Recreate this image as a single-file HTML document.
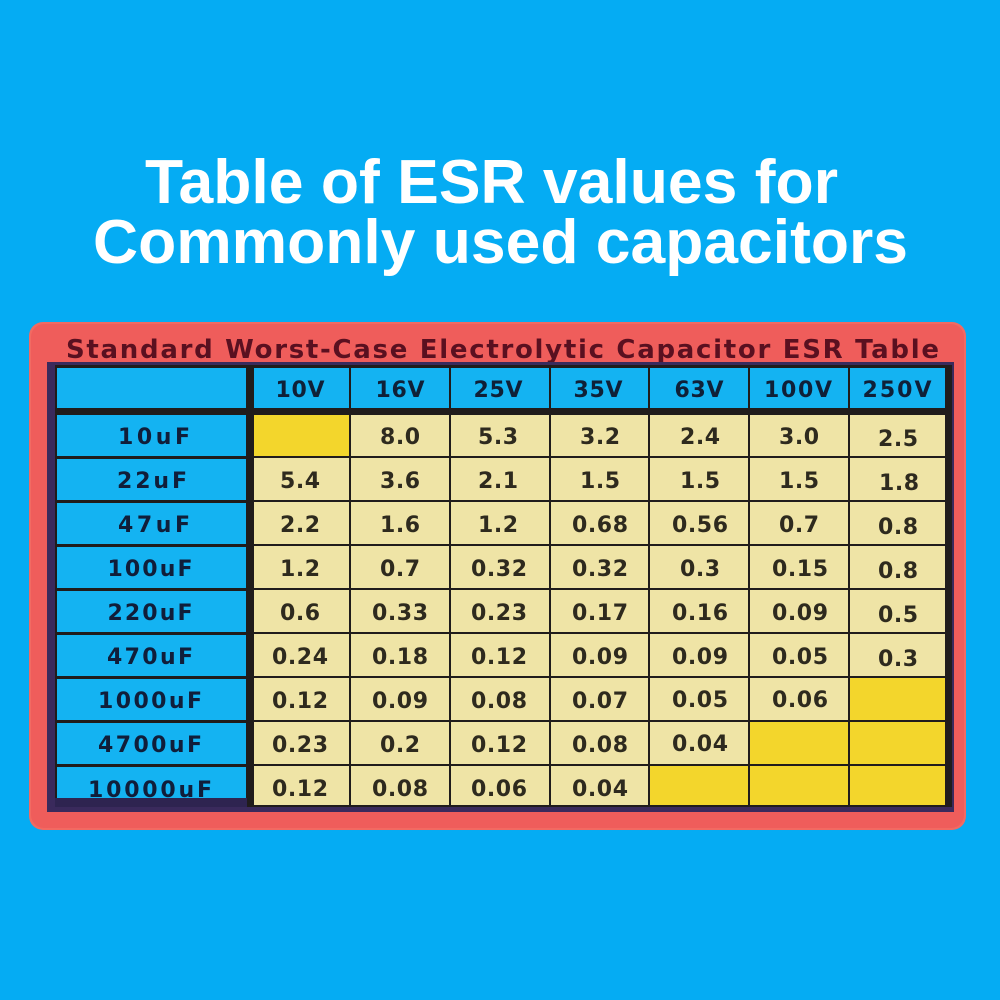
<!DOCTYPE html>
<html><head><meta charset="utf-8"><style>
html,body{margin:0;padding:0;background:#05acf3;}
svg{display:block;}
text{font-family:"DejaVu Sans","Liberation Sans",sans-serif;font-weight:bold;}
text.t{font-family:"Liberation Sans",Arial,sans-serif;}
</style></head><body>
<svg width="1000" height="1000" viewBox="0 0 1000 1000" xmlns="http://www.w3.org/2000/svg">
<rect x="0" y="0" width="1000" height="1000" fill="#05acf3"/>
<text class="t" x="145" y="203" font-size="62" fill="#ffffff" textLength="693" lengthAdjust="spacingAndGlyphs">Table of ESR values for</text>
<text class="t" x="93" y="263" font-size="62" fill="#ffffff" textLength="815" lengthAdjust="spacingAndGlyphs">Commonly used capacitors</text>

<rect x="29" y="322" width="937" height="508" rx="14" fill="#f26a62"/>
<rect x="31" y="324" width="933" height="504" rx="13" fill="#ef5d5b"/>
<text x="66" y="358" font-size="26" fill="#5a1020" textLength="873" lengthAdjust="spacing">Standard Worst-Case Electrolytic Capacitor ESR Table</text>

<rect x="47" y="362" width="907" height="450" fill="#3a2a5c"/>
<rect x="55" y="365" width="897" height="442" fill="#201c1c"/>

<g fill="#14b3f2">
<rect x="57" y="368" width="189" height="40"/>
<rect x="254" y="368" width="95" height="40"/>
<rect x="351" y="368" width="98" height="40"/>
<rect x="451" y="368" width="98" height="40"/>
<rect x="551" y="368" width="97" height="40"/>
<rect x="650" y="368" width="98" height="40"/>
<rect x="750" y="368" width="98" height="40"/>
<rect x="850" y="368" width="95" height="40"/>
<rect x="57" y="415" width="189" height="41"/>
<rect x="57" y="459" width="189" height="41"/>
<rect x="57" y="503" width="189" height="41"/>
<rect x="57" y="547" width="189" height="41"/>
<rect x="57" y="591" width="189" height="41"/>
<rect x="57" y="635" width="189" height="41"/>
<rect x="57" y="679" width="189" height="41"/>
<rect x="57" y="723" width="189" height="41"/>
<rect x="57" y="767" width="189" height="31"/>
</g>

<g fill="#efe4a6">
<rect x="254" y="415" width="95" height="41" fill="#f3d62c"/>
<rect x="351" y="415" width="98" height="41"/><rect x="451" y="415" width="98" height="41"/><rect x="551" y="415" width="97" height="41"/><rect x="650" y="415" width="98" height="41"/><rect x="750" y="415" width="98" height="41"/><rect x="850" y="415" width="95" height="41"/>
<rect x="254" y="458" width="95" height="42"/><rect x="351" y="458" width="98" height="42"/><rect x="451" y="458" width="98" height="42"/><rect x="551" y="458" width="97" height="42"/><rect x="650" y="458" width="98" height="42"/><rect x="750" y="458" width="98" height="42"/><rect x="850" y="458" width="95" height="42"/>
<rect x="254" y="502" width="95" height="42"/><rect x="351" y="502" width="98" height="42"/><rect x="451" y="502" width="98" height="42"/><rect x="551" y="502" width="97" height="42"/><rect x="650" y="502" width="98" height="42"/><rect x="750" y="502" width="98" height="42"/><rect x="850" y="502" width="95" height="42"/>
<rect x="254" y="546" width="95" height="42"/><rect x="351" y="546" width="98" height="42"/><rect x="451" y="546" width="98" height="42"/><rect x="551" y="546" width="97" height="42"/><rect x="650" y="546" width="98" height="42"/><rect x="750" y="546" width="98" height="42"/><rect x="850" y="546" width="95" height="42"/>
<rect x="254" y="590" width="95" height="42"/><rect x="351" y="590" width="98" height="42"/><rect x="451" y="590" width="98" height="42"/><rect x="551" y="590" width="97" height="42"/><rect x="650" y="590" width="98" height="42"/><rect x="750" y="590" width="98" height="42"/><rect x="850" y="590" width="95" height="42"/>
<rect x="254" y="634" width="95" height="42"/><rect x="351" y="634" width="98" height="42"/><rect x="451" y="634" width="98" height="42"/><rect x="551" y="634" width="97" height="42"/><rect x="650" y="634" width="98" height="42"/><rect x="750" y="634" width="98" height="42"/><rect x="850" y="634" width="95" height="42"/>
<rect x="254" y="678" width="95" height="42"/><rect x="351" y="678" width="98" height="42"/><rect x="451" y="678" width="98" height="42"/><rect x="551" y="678" width="97" height="42"/><rect x="650" y="678" width="98" height="42"/><rect x="750" y="678" width="98" height="42"/><rect x="850" y="678" width="95" height="42" fill="#f3d62c"/>
<rect x="254" y="722" width="95" height="42"/><rect x="351" y="722" width="98" height="42"/><rect x="451" y="722" width="98" height="42"/><rect x="551" y="722" width="97" height="42"/><rect x="650" y="722" width="98" height="42"/><rect x="750" y="722" width="98" height="42" fill="#f3d62c"/><rect x="850" y="722" width="95" height="42" fill="#f3d62c"/>
<rect x="254" y="766" width="95" height="39"/><rect x="351" y="766" width="98" height="39"/><rect x="451" y="766" width="98" height="39"/><rect x="551" y="766" width="97" height="39"/><rect x="650" y="766" width="98" height="39" fill="#f3d62c"/><rect x="750" y="766" width="98" height="39" fill="#f3d62c"/><rect x="850" y="766" width="95" height="39" fill="#f3d62c"/>
</g>

<g font-size="22" fill="#0f2038" text-anchor="middle">
<text x="300" y="397" textLength="49" lengthAdjust="spacing">10V</text>
<text x="400" y="397" textLength="49" lengthAdjust="spacing">16V</text>
<text x="498" y="397" textLength="49" lengthAdjust="spacing">25V</text>
<text x="598" y="397" textLength="49" lengthAdjust="spacing">35V</text>
<text x="699" y="397" textLength="49" lengthAdjust="spacing">63V</text>
<text x="798" y="397" textLength="68" lengthAdjust="spacing">100V</text>
<text x="897" y="397" textLength="69" lengthAdjust="spacing">250V</text>
</g>

<g font-size="22" fill="#101e3a" text-anchor="middle">
<text x="154" y="444" textLength="72" lengthAdjust="spacing">10uF</text>
<text x="152" y="488" textLength="70" lengthAdjust="spacing">22uF</text>
<text x="154" y="532" textLength="72" lengthAdjust="spacing">47uF</text>
<text x="150" y="576" textLength="85" lengthAdjust="spacing">100uF</text>
<text x="150" y="620" textLength="85" lengthAdjust="spacing">220uF</text>
<text x="150" y="664" textLength="86" lengthAdjust="spacing">470uF</text>
<text x="150" y="708" textLength="104" lengthAdjust="spacing">1000uF</text>
<text x="150" y="752" textLength="104" lengthAdjust="spacing">4700uF</text>
<text x="150" y="797" textLength="124" lengthAdjust="spacing">10000uF</text>
</g>
<rect x="55" y="798" width="192" height="9" fill="#2e2450"/>

<g font-size="22" fill="#2e2a1e" text-anchor="middle">
<text x="400" y="444" textLength="40" lengthAdjust="spacing">8.0</text>
<text x="498" y="444" textLength="40" lengthAdjust="spacing">5.3</text>
<text x="600" y="444" textLength="40" lengthAdjust="spacing">3.2</text>
<text x="700" y="444" textLength="40" lengthAdjust="spacing">2.4</text>
<text x="799" y="444" textLength="40" lengthAdjust="spacing">3.0</text>
<text x="898" y="446" textLength="40" lengthAdjust="spacing">2.5</text>
<text x="300" y="488" textLength="40" lengthAdjust="spacing">5.4</text>
<text x="400" y="488" textLength="40" lengthAdjust="spacing">3.6</text>
<text x="498" y="488" textLength="40" lengthAdjust="spacing">2.1</text>
<text x="600" y="488" textLength="40" lengthAdjust="spacing">1.5</text>
<text x="700" y="488" textLength="40" lengthAdjust="spacing">1.5</text>
<text x="799" y="488" textLength="40" lengthAdjust="spacing">1.5</text>
<text x="899" y="490" textLength="40" lengthAdjust="spacing">1.8</text>
<text x="300" y="532" textLength="40" lengthAdjust="spacing">2.2</text>
<text x="400" y="532" textLength="40" lengthAdjust="spacing">1.6</text>
<text x="498" y="532" textLength="40" lengthAdjust="spacing">1.2</text>
<text x="600" y="532" textLength="56" lengthAdjust="spacing">0.68</text>
<text x="700" y="532" textLength="56" lengthAdjust="spacing">0.56</text>
<text x="799" y="532" textLength="40" lengthAdjust="spacing">0.7</text>
<text x="898" y="534" textLength="40" lengthAdjust="spacing">0.8</text>
<text x="300" y="576" textLength="40" lengthAdjust="spacing">1.2</text>
<text x="400" y="576" textLength="40" lengthAdjust="spacing">0.7</text>
<text x="499" y="576" textLength="56" lengthAdjust="spacing">0.32</text>
<text x="600" y="576" textLength="56" lengthAdjust="spacing">0.32</text>
<text x="700" y="576" textLength="40" lengthAdjust="spacing">0.3</text>
<text x="800" y="576" textLength="56" lengthAdjust="spacing">0.15</text>
<text x="898" y="578" textLength="40" lengthAdjust="spacing">0.8</text>
<text x="300" y="620" textLength="40" lengthAdjust="spacing">0.6</text>
<text x="400" y="620" textLength="56" lengthAdjust="spacing">0.33</text>
<text x="499" y="620" textLength="56" lengthAdjust="spacing">0.23</text>
<text x="600" y="620" textLength="56" lengthAdjust="spacing">0.17</text>
<text x="700" y="620" textLength="56" lengthAdjust="spacing">0.16</text>
<text x="800" y="620" textLength="56" lengthAdjust="spacing">0.09</text>
<text x="898" y="622" textLength="40" lengthAdjust="spacing">0.5</text>
<text x="300" y="664" textLength="56" lengthAdjust="spacing">0.24</text>
<text x="400" y="664" textLength="56" lengthAdjust="spacing">0.18</text>
<text x="499" y="664" textLength="56" lengthAdjust="spacing">0.12</text>
<text x="600" y="664" textLength="56" lengthAdjust="spacing">0.09</text>
<text x="700" y="664" textLength="56" lengthAdjust="spacing">0.09</text>
<text x="800" y="664" textLength="56" lengthAdjust="spacing">0.05</text>
<text x="898" y="666" textLength="40" lengthAdjust="spacing">0.3</text>
<text x="300" y="708" textLength="56" lengthAdjust="spacing">0.12</text>
<text x="400" y="708" textLength="56" lengthAdjust="spacing">0.09</text>
<text x="499" y="708" textLength="56" lengthAdjust="spacing">0.08</text>
<text x="600" y="708" textLength="56" lengthAdjust="spacing">0.07</text>
<text x="700" y="707" textLength="56" lengthAdjust="spacing">0.05</text>
<text x="800" y="707" textLength="56" lengthAdjust="spacing">0.06</text>
<text x="300" y="752" textLength="56" lengthAdjust="spacing">0.23</text>
<text x="400" y="752" textLength="40" lengthAdjust="spacing">0.2</text>
<text x="499" y="752" textLength="56" lengthAdjust="spacing">0.12</text>
<text x="600" y="752" textLength="56" lengthAdjust="spacing">0.08</text>
<text x="700" y="751" textLength="56" lengthAdjust="spacing">0.04</text>
<text x="300" y="796" textLength="56" lengthAdjust="spacing">0.12</text>
<text x="400" y="796" textLength="56" lengthAdjust="spacing">0.08</text>
<text x="499" y="796" textLength="56" lengthAdjust="spacing">0.06</text>
<text x="600" y="796" textLength="56" lengthAdjust="spacing">0.04</text>
</g>
</svg>
</body></html>
